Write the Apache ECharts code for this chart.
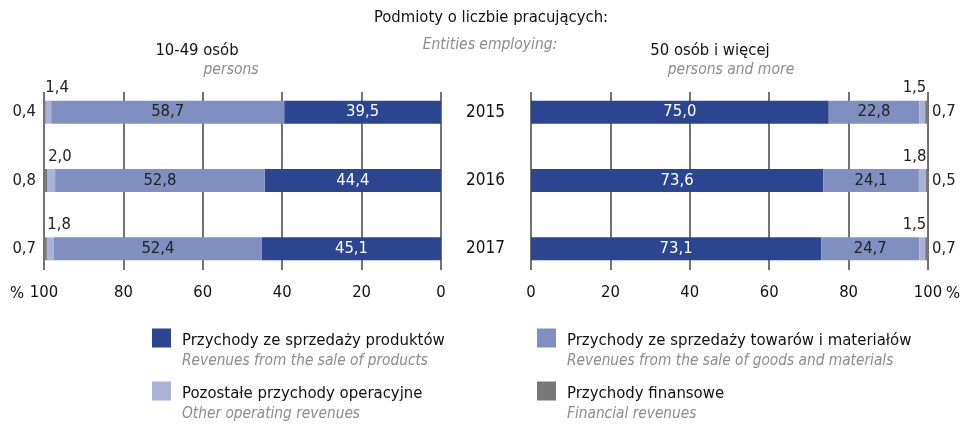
<!DOCTYPE html>
<html>
<head>
<meta charset="utf-8">
<script src="https://cdn.jsdelivr.net/npm/echarts@6/dist/echarts.min.js"></script>
<style>
  html, body { margin: 0; padding: 0; background: #fff; }
  #chart { width: 965px; height: 424px; }
</style>
</head>
<body>
<div id="chart"></div>
<script>
// dane (%)
const years = ['2015', '2016', '2017'];
const seriesNames = [
  'Przychody ze sprzedaży produktów',
  'Przychody ze sprzedaży towarów i materiałów',
  'Pozostałe przychody operacyjne',
  'Przychody finansowe'
];
const seriesNamesEn = [
  'Revenues from the sale of products',
  'Revenues from the sale of goods and materials',
  'Other operating revenues',
  'Financial revenues'
];
const colors = ['#2b4591', '#7f8fbf', '#aab3d7', '#777777'];

// 10-49 osób
const smallProducts = [39.5, 44.4, 45.1];
const smallGoods = [58.7, 52.8, 52.4];
const smallOther = [1.4, 2.0, 1.8];
const smallFinancial = [0.4, 0.8, 0.7];

// 50 osób i więcej
const bigProducts = [75.0, 73.6, 73.1];
const bigGoods = [22.8, 24.1, 24.7];
const bigOther = [1.5, 1.8, 1.5];
const bigFinancial = [0.7, 0.5, 0.7];

const axisTicks = [0, 20, 40, 60, 80, 100];

const FONT = '"DejaVu Sans Condensed", "Liberation Sans Narrow", sans-serif';
const fmt = p => p.value.toFixed(1).replace('.', ',');

function barSeries(gridIdx, data, left) {
  const labels = [
    { show: true, position: 'inside', color: '#fff' },
    { show: true, position: 'inside', color: '#222' },
    left
      ? { show: true, position: 'top', align: 'left', offset: [-3, 0], distance: 4, color: '#222' }
      : { show: true, position: 'top', align: 'right', offset: [4, 0], distance: 4, color: '#222' },
    left
      ? { show: true, position: 'left', distance: 8, color: '#222' }
      : { show: true, position: 'right', distance: 4, color: '#222' }
  ];
  return data.map((d, i) => ({
    name: seriesNames[i],
    type: 'bar',
    stack: 'g' + gridIdx,
    xAxisIndex: gridIdx,
    yAxisIndex: gridIdx,
    barWidth: 23,
    data: d,
    itemStyle: { color: colors[i] },
    label: Object.assign({ formatter: fmt, fontSize: 16.5, fontFamily: FONT }, labels[i])
  }));
}

const chart = echarts.init(document.getElementById('chart'));

const legendPos = [[152, 305], [537, 305], [152, 358], [537, 358]];

const option = {
  animation: false,
  grid: [
    // slupki
    { left: 44, top: 78, width: 397, height: 205 },
    { left: 531, top: 78, width: 397, height: 205 },
    // linie siatki
    { left: 44, top: 92, width: 397, height: 178 },
    { left: 531, top: 92, width: 397, height: 178 }
  ],
  xAxis: [
    { gridIndex: 0, type: 'value', min: 0, max: 100, inverse: true, show: false },
    { gridIndex: 1, type: 'value', min: 0, max: 100, show: false },
    {
      gridIndex: 2, type: 'value', min: 0, max: 100, interval: 20, inverse: true,
      axisLine: { show: false }, axisTick: { show: false },
      splitLine: { show: true, lineStyle: { color: '#444', width: 1.5 } },
      axisLabel: { margin: 14, fontSize: 16.5, fontFamily: FONT, color: '#111',
        customValues: axisTicks }
    },
    {
      gridIndex: 3, type: 'value', min: 0, max: 100, interval: 20,
      axisLine: { show: false }, axisTick: { show: false },
      splitLine: { show: true, lineStyle: { color: '#444', width: 1.5 } },
      axisLabel: { margin: 14, fontSize: 16.5, fontFamily: FONT, color: '#111',
        customValues: axisTicks }
    }
  ],
  yAxis: [
    { gridIndex: 0, type: 'category', data: years, inverse: true, show: false },
    {
      gridIndex: 1, type: 'category', data: years, inverse: true,
      axisLine: { show: false }, axisTick: { show: false },
      axisLabel: { margin: 26, fontSize: 17, fontFamily: FONT, color: '#111' }
    },
    { gridIndex: 2, type: 'value', min: 0, max: 1, show: false },
    { gridIndex: 3, type: 'value', min: 0, max: 1, show: false }
  ],
  legend: seriesNames.map((nm, i) => ({
    data: [nm],
    left: legendPos[i][0],
    top: legendPos[i][1],
    padding: 0,
    icon: 'rect',
    itemWidth: 19,
    itemHeight: 19,
    selectedMode: false,
    formatter: name => name + '\n{en|' + seriesNamesEn[seriesNames.indexOf(name)] + '}',
    textStyle: {
      fontFamily: FONT, fontSize: 16.6, color: '#111', lineHeight: 20,
      padding: [26, 0, 0, 6],
      rich: {
        en: { fontFamily: FONT, fontStyle: 'italic', fontSize: 15.3, color: '#8c8c8c', lineHeight: 20 }
      }
    }
  })),
  graphic: [
    { type: 'text', x: 491, y: 18, style: { text: 'Podmioty o liczbie pracujących:', font: '16.5px ' + FONT, fill: '#111', align: 'center', verticalAlign: 'middle' } },
    { type: 'text', x: 490, y: 45, style: { text: 'Entities employing:', font: 'italic 15.5px ' + FONT, fill: '#8c8c8c', align: 'center', verticalAlign: 'middle' } },
    { type: 'text', x: 197, y: 51, style: { text: '10-49 osób', font: '16.5px ' + FONT, fill: '#111', align: 'center', verticalAlign: 'middle' } },
    { type: 'text', x: 231, y: 70, style: { text: 'persons', font: 'italic 15.5px ' + FONT, fill: '#8c8c8c', align: 'center', verticalAlign: 'middle' } },
    { type: 'text', x: 710, y: 51, style: { text: '50 osób i więcej', font: '16.5px ' + FONT, fill: '#111', align: 'center', verticalAlign: 'middle' } },
    { type: 'text', x: 731, y: 70, style: { text: 'persons and more', font: 'italic 15.5px ' + FONT, fill: '#8c8c8c', align: 'center', verticalAlign: 'middle' } },
    { type: 'text', x: 17, y: 294, style: { text: '%', font: '16.5px ' + FONT, fill: '#111', align: 'center', verticalAlign: 'middle' } },
    { type: 'text', x: 953, y: 294, style: { text: '%', font: '16.5px ' + FONT, fill: '#111', align: 'center', verticalAlign: 'middle' } }
  ],
  series: [
    ...barSeries(0, [smallProducts, smallGoods, smallOther, smallFinancial], true),
    ...barSeries(1, [bigProducts, bigGoods, bigOther, bigFinancial], false)
  ]
};

chart.setOption(option);
</script>
</body>
</html>
